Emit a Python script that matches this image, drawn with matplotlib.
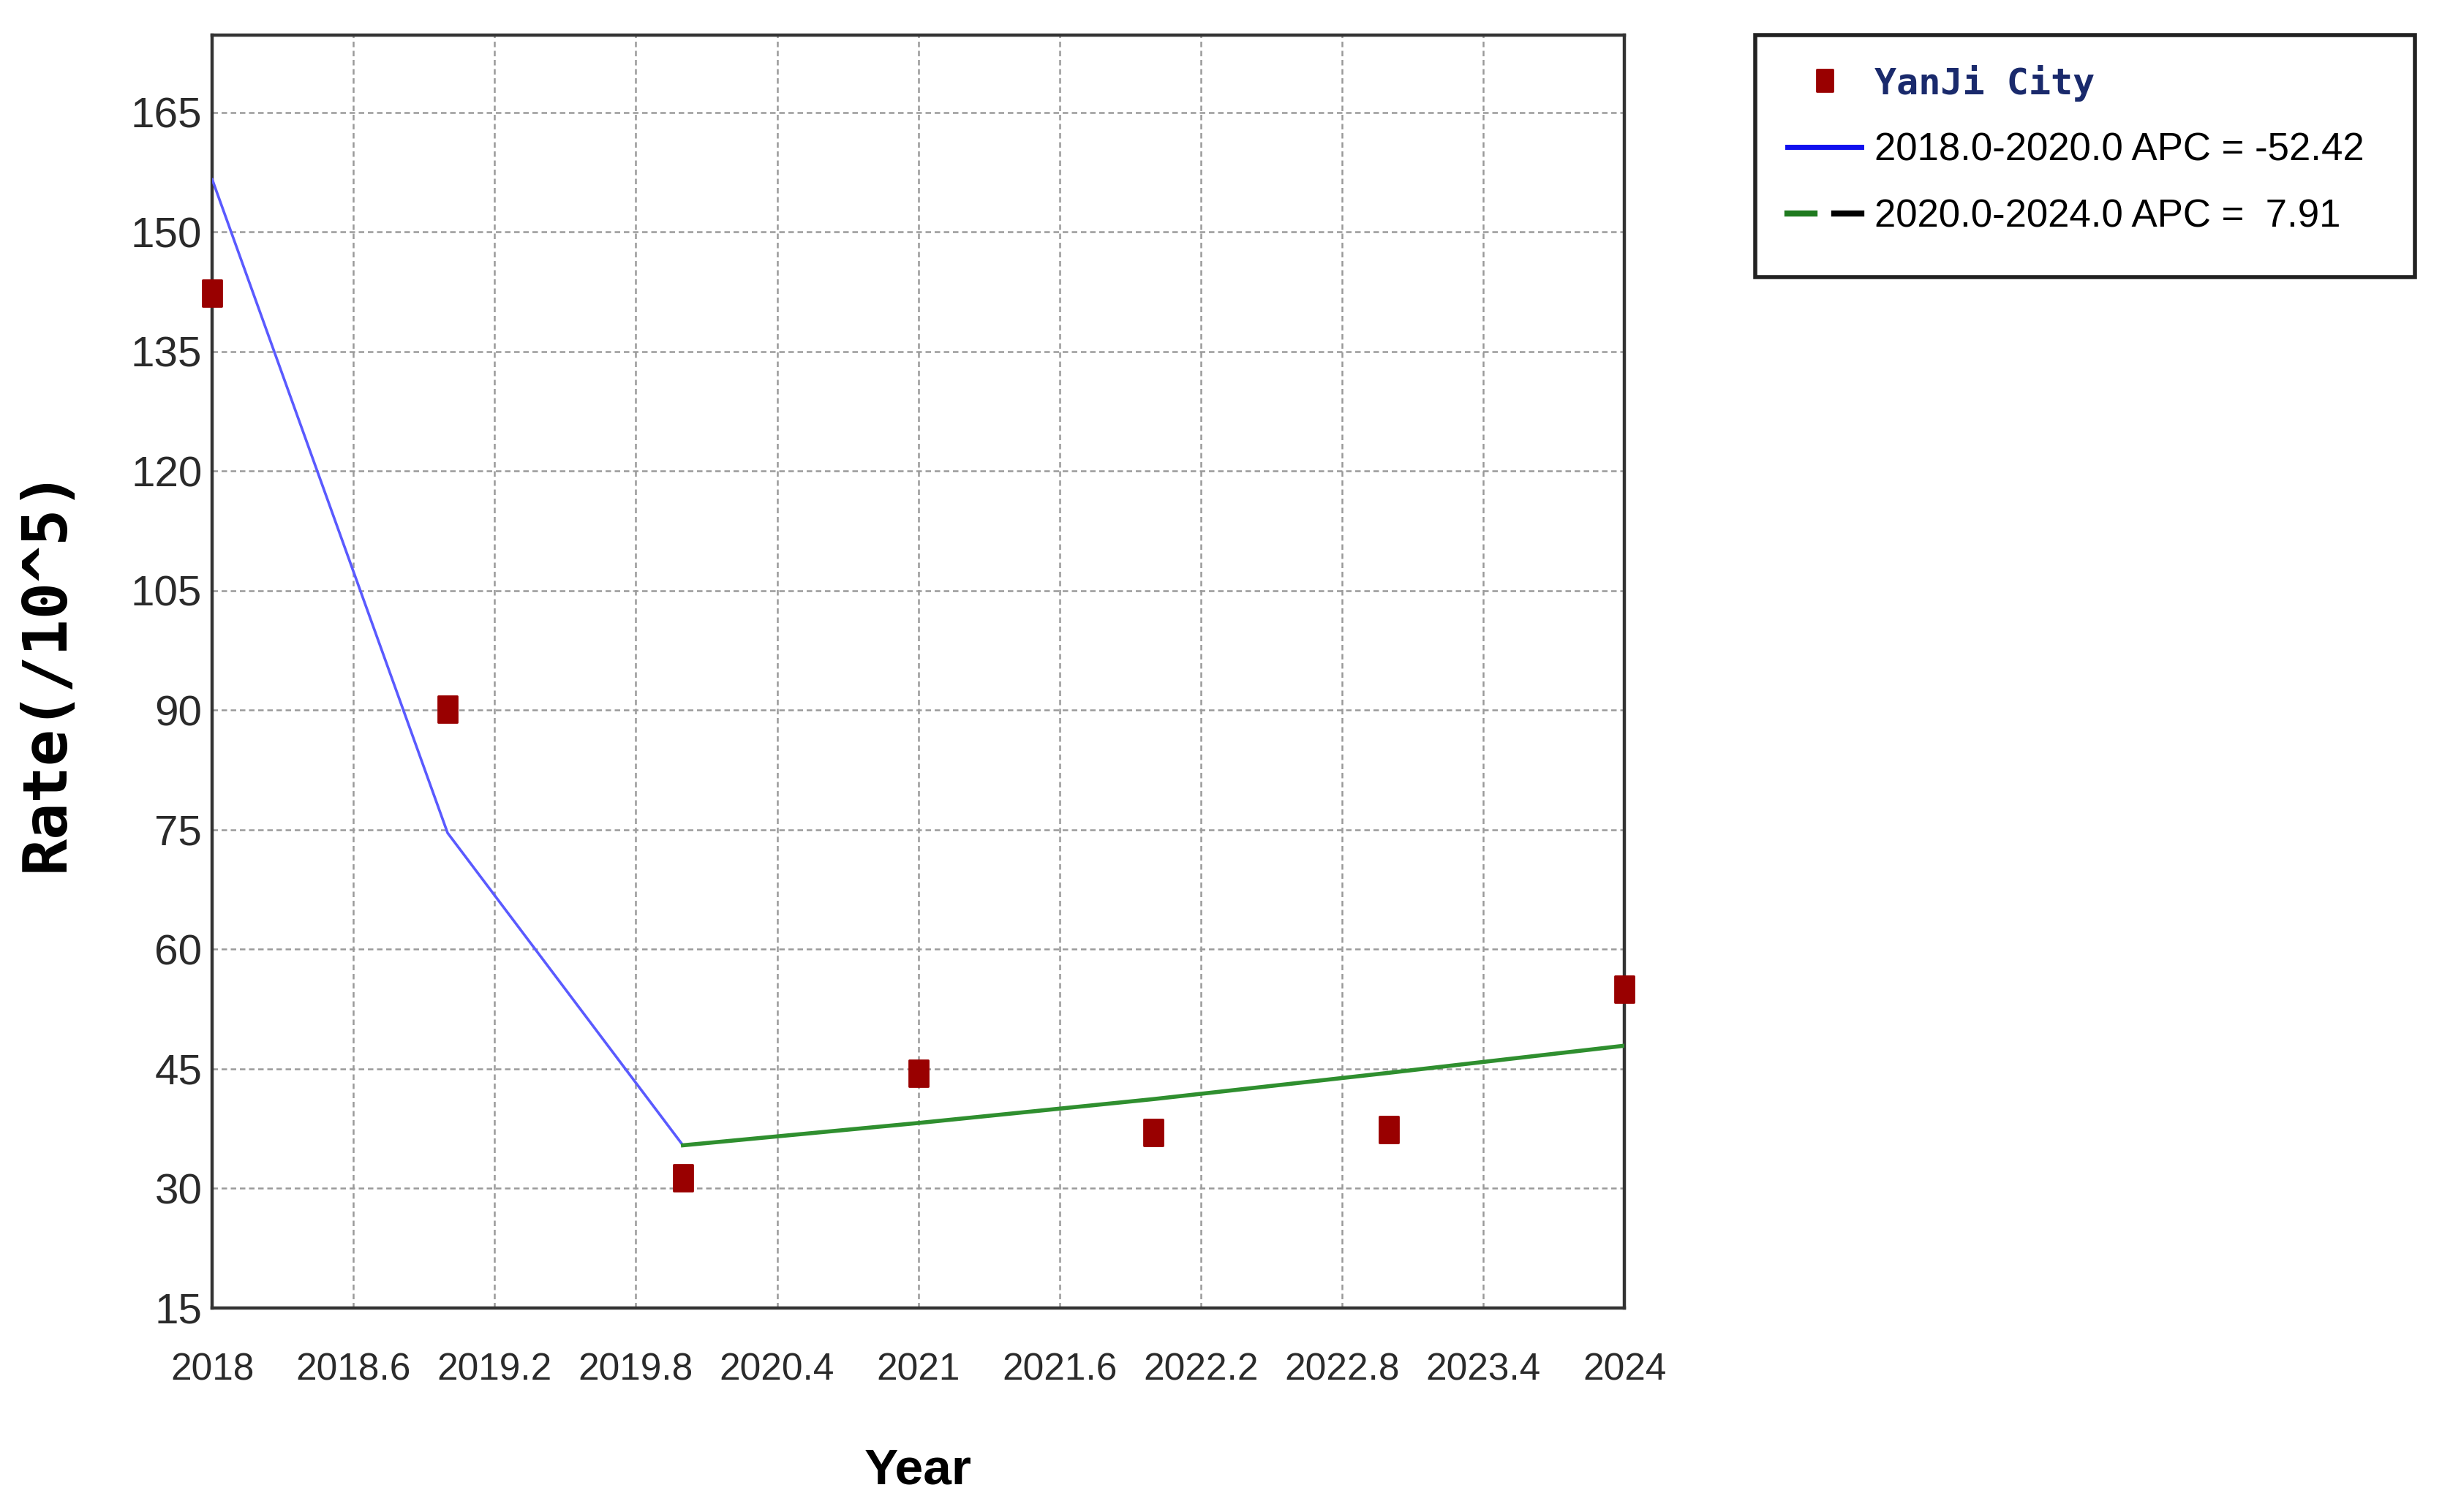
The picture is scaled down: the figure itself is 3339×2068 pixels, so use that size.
import matplotlib
matplotlib.use("Agg")
import matplotlib.pyplot as plt
from matplotlib.lines import Line2D
from matplotlib.legend_handler import HandlerTuple
from matplotlib.patches import Rectangle
from matplotlib.path import Path

# observed rates
years = [2018, 2019, 2020, 2021, 2022, 2023, 2024]
rates = [142.3, 90.1, 31.3, 44.4, 37.0, 37.4, 55.0]

# joinpoint fitted segments
seg1_years = [2018, 2019, 2020]
seg1_fit = [156.6, 74.6, 35.4]
seg2_years = [2020, 2021, 2022, 2023, 2024]
seg2_fit = [35.4, 38.2, 41.2, 44.5, 47.9]

x_ticks = [2018, 2018.6, 2019.2, 2019.8, 2020.4, 2021, 2021.6, 2022.2, 2022.8, 2023.4, 2024]
y_ticks = [15, 30, 45, 60, 75, 90, 105, 120, 135, 150, 165]

label_pts = "YanJi City"
label_seg1 = "2018.0-2020.0 APC = -52.42"
label_seg2 = "2020.0-2024.0 APC =  7.91"

sans = ["Liberation Sans", "DejaVu Sans"]
mono = ["DejaVu Sans Mono"]

# tall rectangle marker (source picture is squeezed horizontally)
rect = Path([(-0.7, -1), (0.7, -1), (0.7, 1), (-0.7, 1), (-0.7, -1)],
            [Path.MOVETO, Path.LINETO, Path.LINETO, Path.LINETO, Path.CLOSEPOLY])

fig = plt.figure(figsize=(16.695, 10.34), dpi=200)
ax = fig.add_axes([0.0869, 0.135, 0.5783, 0.842])

ax.plot(seg1_years, seg1_fit, color="#5a5aff", linewidth=1.3, zorder=3)
ax.plot(seg2_years, seg2_fit, color="#2f8f2f", linewidth=2.0, zorder=3)
ax.plot(years, rates, linestyle="none", marker=rect, markersize=13,
        color="#990000", zorder=4, clip_on=False)

ax.set_xlim(2018, 2024)
ax.set_ylim(15, 174.75)
ax.set_xticks(x_ticks)
ax.set_xticklabels([("%g" % t) for t in x_ticks])
ax.set_yticks(y_ticks)

ax.grid(True, color="#9a9a9a", linestyle=(0, (3, 2)), linewidth=0.9)
ax.set_axisbelow(True)
for s in ax.spines.values():
    s.set_color("#333333")
    s.set_linewidth(1.6)

ax.tick_params(axis="both", length=0)
ax.tick_params(axis="x", pad=22)
ax.tick_params(axis="y", pad=5)
for lab in ax.get_xticklabels():
    lab.set_family(sans)
    lab.set_fontsize(18.5)
    lab.set_color("#2a2a2a")
for lab in ax.get_yticklabels():
    lab.set_family(sans)
    lab.set_fontsize(21)
    lab.set_color("#2a2a2a")

ax.set_xlabel("Year", fontsize=25, fontweight="bold", family=sans, labelpad=29)
fig.text(0.019, 0.557, "Rate(/10^5)", rotation=90, ha="center", va="center",
         fontsize=30, fontweight="bold", family=mono)

# legend box drawn separately so its size matches the reference
fig.patches.append(Rectangle((0.7188, 0.8167), 0.2702, 0.1603, transform=fig.transFigure,
                             facecolor="white", edgecolor="#222222", linewidth=2.0,
                             zorder=1))

h_pts = Line2D([], [], linestyle="none", marker=rect, markersize=11, color="#990000")
h_seg1 = Line2D([], [], color="#1010ee", linewidth=2.5)
h_seg2a = Line2D([], [], color="#1f7a1f", linewidth=3.0)
h_seg2b = Line2D([], [], color="black", linewidth=3.0)
leg = fig.legend([h_pts, h_seg1, (h_seg2a, h_seg2b)],
                 [label_pts, label_seg1, label_seg2],
                 handler_map={tuple: HandlerTuple(ndivide=None, pad=0.5)},
                 loc="upper left", bbox_to_anchor=(0.7321, 0.957),
                 borderaxespad=0, borderpad=0, frameon=False,
                 handlelength=1.9, handletextpad=0.35, labelspacing=0.78,
                 prop={"family": sans, "size": 19})
txts = leg.get_texts()
txts[0].set_color("#1a2a6c")
txts[0].set_family(mono)
txts[0].set_fontweight("bold")
txts[0].set_fontsize(18)

fig.savefig("out.png", dpi=200)
